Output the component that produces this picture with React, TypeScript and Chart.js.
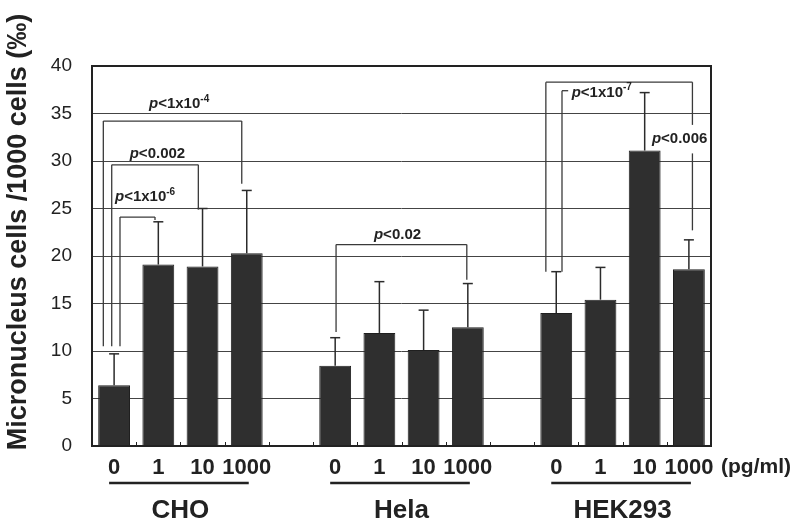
import React, { useEffect, useRef } from 'react';
import { Chart, registerables } from 'chart.js';

Chart.register(...registerables);

// ---- data ----
const cellLines = ['CHO', 'Hela', 'HEK293'];
const doses = ['0', '1', '10', '1000'];
const meanCHO = [6.4, 19.1, 18.9, 20.3];
const meanHela = [8.45, 11.9, 10.1, 12.5];
const meanHEK = [14.0, 15.4, 31.1, 18.6];
const sdCHO = [3.3, 4.5, 6.1, 6.6];
const sdHela = [2.95, 5.4, 4.2, 4.6];
const sdHEK = [4.35, 3.4, 6.1, 3.1];
const yMin = 0;
const yMax = 40;
const yStep = 5;
const unitLabel = '(pg/ml)';
const yTitle = 'Micronucleus cells /1000 cells (\u2030)';

// significance brackets: leg x in category-index units, y in data units
const brackets = [
  { x1: -0.244, x2: 2.887, top: 34.2, b1: 10.5, b2: 27.6, gap: null },
  { x1: -0.054, x2: 1.905, top: 29.6, b1: 10.5, b2: 24.9, gap: null },
  { x1: 0.133, x2: 0.925, top: 24.1, b1: 10.5, b2: 23.8, gap: null },
  { x1: 5.02, x2: 7.977, top: 21.2, b1: 12.0, b2: 17.5, gap: null },
  { x1: 9.765, x2: 13.08, top: 38.3, b1: 18.35, b2: 22.7, gap: [33.8, 30.8] },
  { x1: 10.13, x2: 10.27, top: 37.4, b1: 18.35, b2: 37.4, gap: null },
];
const pLabels = [
  { x: 1.47, y: 36.0, text: '<1x10', exp: '-4' },
  { x: 0.98, y: 30.7, text: '<0.002', exp: '' },
  { x: 0.70, y: 26.2, text: '<1x10', exp: '-6' },
  { x: 6.41, y: 22.2, text: '<0.02', exp: '' },
  { x: 11.03, y: 37.2, text: '<1x10', exp: '-7' },
  { x: 12.79, y: 32.3, text: '<0.006', exp: '' },
];

// ---- derived slot arrays (one empty slot between groups) ----
const groups = [
  { mean: meanCHO, sd: sdCHO },
  { mean: meanHela, sd: sdHela },
  { mean: meanHEK, sd: sdHEK },
];
const labels: string[] = [];
const values: (number | null)[] = [];
const errors: (number | null)[] = [];
const groupStart: number[] = [];
groups.forEach((g, gi) => {
  if (gi > 0) {
    labels.push('');
    values.push(null);
    errors.push(null);
  }
  groupStart.push(labels.length);
  doses.forEach((d, di) => {
    labels.push(d);
    values.push(g.mean[di]);
    errors.push(g.sd[di]);
  });
});

const FONT = "'Liberation Sans', Arial, Helvetica, sans-serif";
const INK = '#2b2b2b';

const overlay = {
  id: 'overlay',
  afterDatasetsDraw(chart: any) {
    const ctx: CanvasRenderingContext2D = chart.ctx;
    const xs = chart.scales.x;
    const ys = chart.scales.y;
    const ca = chart.chartArea;
    const px = (i: number) => xs.getPixelForValue(i);
    const py = (v: number) => ys.getPixelForValue(v);
    const line = (x1: number, y1: number, x2: number, y2: number) => {
      ctx.beginPath();
      ctx.moveTo(x1, y1);
      ctx.lineTo(x2, y2);
      ctx.stroke();
    };

    ctx.save();
    // error bars (upper only)
    ctx.strokeStyle = INK;
    ctx.lineWidth = 1.5;
    values.forEach((v, i) => {
      const e = errors[i];
      if (v == null || e == null) return;
      const cx = px(i);
      const y0 = py(v);
      const y1 = py(v + e);
      line(cx, y0, cx, y1);
      line(cx - 5, y1, cx + 5, y1);
    });

    // frame
    ctx.lineWidth = 2;
    ctx.strokeStyle = '#222';
    ctx.strokeRect(ca.left, ca.top, ca.right - ca.left, ca.bottom - ca.top);

    // small inward ticks at category boundaries
    ctx.lineWidth = 1;
    for (let k = 1; k < labels.length; k++) {
      const bx = Math.round(px(k - 0.5)) + 0.5;
      line(bx, ca.bottom, bx, ca.bottom - 4);
    }

    // brackets
    ctx.strokeStyle = '#3a3a3a';
    ctx.lineWidth = 1.3;
    brackets.forEach((b) => {
      const x1 = px(b.x1);
      const x2 = px(b.x2);
      const t = py(b.top);
      line(x1, py(b.b1), x1, t);
      line(x1, t, x2, t);
      if (b.gap) {
        line(x2, t, x2, py(b.gap[0]));
        line(x2, py(b.gap[1]), x2, py(b.b2));
      } else if (b.b2 !== b.top) {
        line(x2, t, x2, py(b.b2));
      }
    });

    // p-value labels
    ctx.fillStyle = '#222';
    ctx.textBaseline = 'middle';
    ctx.textAlign = 'left';
    pLabels.forEach((l) => {
      const fP = `italic bold 15px ${FONT}`;
      const fM = `bold 15px ${FONT}`;
      const fE = `bold 10px ${FONT}`;
      ctx.font = fP;
      const wP = ctx.measureText('p').width;
      ctx.font = fM;
      const wM = ctx.measureText(l.text).width;
      ctx.font = fE;
      const wE = l.exp ? ctx.measureText(l.exp).width : 0;
      const total = wP + wM + wE;
      let x = px(l.x) - total / 2;
      const y = py(l.y);
      ctx.font = fP;
      ctx.fillText('p', x, y);
      x += wP;
      ctx.font = fM;
      ctx.fillText(l.text, x, y);
      x += wM;
      if (l.exp) {
        ctx.font = fE;
        ctx.fillText(l.exp, x, y - 5);
      }
    });

    // group underlines and names
    ctx.strokeStyle = '#222';
    ctx.lineWidth = 2.5;
    ctx.textAlign = 'center';
    ctx.font = `bold 26px ${FONT}`;
    cellLines.forEach((name, gi) => {
      const s = groupStart[gi];
      const e = s + doses.length - 1;
      const xa = px(s) - 5;
      const xb = px(e) + 2;
      line(xa, 483, xb, 483);
      ctx.fillText(name, (px(s) + px(e)) / 2, 511);
    });

    // unit label
    ctx.font = `bold 21px ${FONT}`;
    ctx.fillText(unitLabel, 756, 467);

    // y title
    ctx.save();
    ctx.translate(19, 232);
    ctx.rotate(-Math.PI / 2);
    ctx.font = `bold 27px ${FONT}`;
    ctx.fillText(yTitle, 0, 0);
    ctx.restore();

    ctx.restore();
  },
};

export default function App() {
  const ref = useRef<HTMLCanvasElement | null>(null);
  useEffect(() => {
    document.body.style.margin = '0';
    const canvas = ref.current;
    if (!canvas) return;
    const chart = new Chart(canvas, {
      type: 'bar',
      data: {
        labels,
        datasets: [
          {
            data: values as any,
            backgroundColor: '#2f2f2f',
            borderColor: '#1f1f1f',
            borderWidth: 1,
            barPercentage: 0.72,
            categoryPercentage: 1.0,
          },
        ],
      },
      options: {
        responsive: false,
        animation: false,
        devicePixelRatio: 1,
        layout: { padding: { top: 66, right: 88, left: 0, bottom: 0 } },
        plugins: {
          legend: { display: false },
          tooltip: { enabled: false },
          title: { display: false },
        },
        scales: {
          x: {
            grid: { display: false },
            border: { display: false },
            ticks: {
              autoSkip: false,
              maxRotation: 0,
              minRotation: 0,
              padding: 1,
              color: '#222',
              font: { family: FONT, size: 22, weight: 'bold' },
            },
            afterFit: (s: any) => {
              s.height = 75;
            },
          },
          y: {
            min: yMin,
            max: yMax,
            grid: { color: '#444', lineWidth: 1, drawTicks: false },
            border: { display: false },
            ticks: {
              stepSize: yStep,
              padding: 20,
              color: '#222',
              font: { family: FONT, size: 19 },
            },
            afterFit: (s: any) => {
              s.width = 92;
            },
          },
        },
      },
      plugins: [overlay],
    });
    return () => chart.destroy();
  }, []);
  return (
    <canvas
      ref={ref}
      width={799}
      height={521}
      style={{ display: 'block', width: 799, height: 521 }}
    />
  );
}
